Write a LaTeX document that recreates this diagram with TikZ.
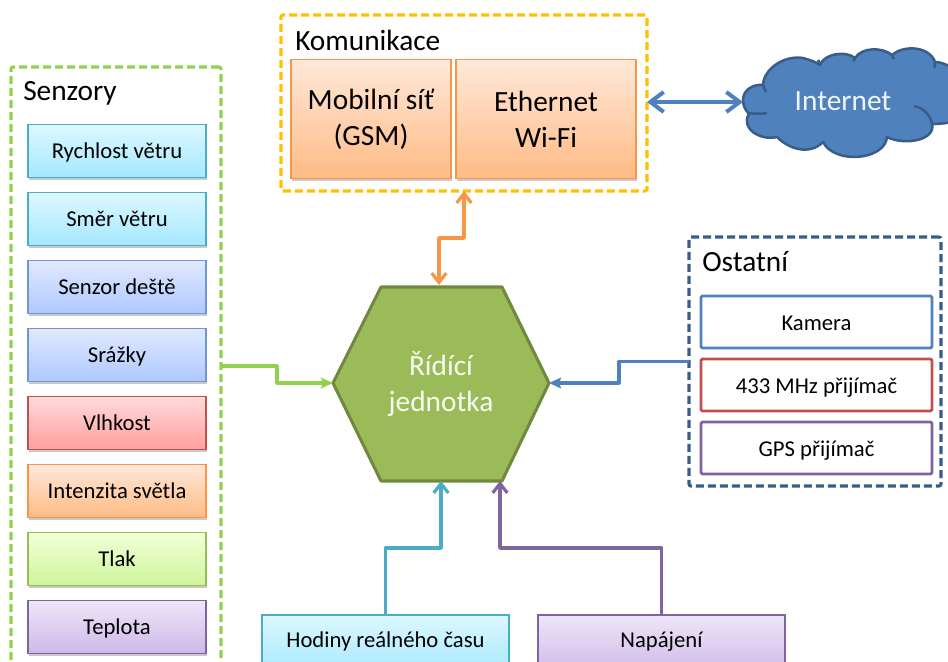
\documentclass[tikz,border=0pt]{standalone}
\usepackage{fontspec}
\setmainfont{Carlito}
\usetikzlibrary{shadows,arrows.meta,calc}
\definecolor{cyL}{HTML}{4BACC6}\definecolor{cyT}{HTML}{DDF8FF}\definecolor{cyB}{HTML}{A5E8FF}
\definecolor{blL}{HTML}{6F97CC}\definecolor{blT}{HTML}{E0E9FF}\definecolor{blB}{HTML}{AFC8FF}
\definecolor{reL}{HTML}{C0504D}\definecolor{reT}{HTML}{FFDADA}\definecolor{reB}{HTML}{FF9E9E}
\definecolor{orL}{HTML}{F79646}\definecolor{orT}{HTML}{FFE8D9}\definecolor{orB}{HTML}{FFBB85}
\definecolor{grL}{HTML}{9BBB59}\definecolor{grT}{HTML}{F3FFD8}\definecolor{grB}{HTML}{CDF59B}
\definecolor{puL}{HTML}{8064A2}\definecolor{puT}{HTML}{EEE6F8}\definecolor{puB}{HTML}{CEB8E8}
\definecolor{blueA}{HTML}{4F81BD}\definecolor{navy}{HTML}{385D8A}
\definecolor{hexF}{HTML}{9BBB59}\definecolor{hexL}{HTML}{71893F}
\definecolor{frG}{HTML}{92D050}\definecolor{frY}{HTML}{FFC000}
\tikzset{
  sz/.style 2 args={minimum width=#1*0.75pt,minimum height=#2*0.75pt,inner sep=0pt,outer sep=0pt},
  gbox/.style={draw=#1L,line width=1pt,top color=#1T,bottom color=#1B,
    drop shadow={shadow xshift=1pt,shadow yshift=-2pt,opacity=.3,fill=black!70},
    font=\fontsize{17}{20}\selectfont,align=center,text=black},
  line1/.style={text height=13.5pt,text depth=3pt},
  wbox/.style={draw=#1,line width=2.1pt,fill=white,rounded corners=1pt,font=\fontsize{17}{20}\selectfont,text height=15pt,text depth=3pt},
  frame/.style={draw=#1,line width=2.3pt,dash pattern=on 6pt off 3pt,rounded corners=1.5pt},
  head/.style={font=\fontsize{22}{26}\selectfont,anchor=west,inner sep=0pt,text=black},
  big/.style={font=\fontsize{22}{27}\selectfont,align=center},
  conn/.style={draw=#1,line width=2.7pt,line join=round},
  thinconn/.style={draw=#1,line width=2.4pt,line join=round},
  solidtip/.style={-{Stealth[length=9pt,width=8pt,inset=1.5pt]}},
  opentip/.style={{Straight Barb[length=7pt,width=11pt,line width=2.4pt]}-{Straight Barb[length=7pt,width=11pt,line width=2.4pt]}},
  onetip/.style={-{Straight Barb[length=7pt,width=11pt,line width=2.4pt]}},
  widetip/.style={{Straight Barb[length=10pt,width=15pt,line width=3pt]}-{Straight Barb[length=10pt,width=15pt,line width=3pt]}},
  plaintext/.style={font=\fontsize{17}{20}\selectfont,text height=12pt,text depth=3pt,inner sep=0pt},
}
\begin{document}
\begin{tikzpicture}[x=0.75pt,y=-0.75pt]
\useasboundingbox (0,0) rectangle (948,661);
\clip (0,0) rectangle (948,661);
% frames
\node[frame=frG,sz={210}{598}] (fS) at (116,366) {};
\node[frame=frY,sz={366}{176}] (fK) at (464,103) {};
\node[frame=navy,sz={252}{249}] (fO) at (815,361.5) {};
% headings
\node[head] (hS) at (23,93) {Senzory};
\node[head] (hK) at (295,40) {Komunikace};
\node[head] (hO) at (702,262) {Ostatní};
% sensors
\node[gbox=cy,line1,sz={178}{53}] (s1) at (117,151) {Rychlost větru};
\node[gbox=cy,line1,sz={178}{53}] (s2) at (117,219) {Směr větru};
\node[gbox=bl,line1,sz={178}{53}] (s3) at (117,287) {Senzor deště};
\node[gbox=bl,line1,sz={178}{53}] (s4) at (117,355) {Srážky};
\node[gbox=re,line1,sz={178}{53}] (s5) at (117,423) {Vlhkost};
\node[gbox=or,line1,sz={178}{53}] (s6) at (117,491) {Intenzita světla};
\node[gbox=gr,line1,sz={178}{53}] (s7) at (117,559) {Tlak};
\node[gbox=pu,line1,sz={178}{53}] (s8) at (117,627) {Teplota};
% communication
\node[gbox=or,sz={160}{119},big] (k1) at (371,119) {Mobilní síť\\(GSM)};
\node[gbox=or,sz={180}{119},big] (k2) at (546,119) {Ethernet\\Wi-Fi};
% others
\node[wbox=blueA,sz={231}{52}] (o1) at (816.5,322) {Kamera};
\node[wbox=reL,sz={231}{52}] (o2) at (816.5,385) {433 MHz přijímač};
\node[wbox=puL,sz={231}{52}] (o3) at (816.5,448) {GPS přijímač};
% bottom
\node[gbox=cy,sz={247}{60}] (b1) at (385.5,645) {};
\node[gbox=pu,sz={247}{60}] (b2) at (661.5,645) {};
\node[plaintext] (b1t) at (385.5,641) {Hodiny reálného času};
\node[plaintext] (b2t) at (661.5,641) {Napájení};
% hexagon
\filldraw[fill=hexF,draw=hexL,line width=2.3pt,line join=round]
  (333,383)--(381,287)--(502,287)--(549,383)--(502,481)--(381,481)--cycle;
\node[sz={216}{196}] (ctrl) at (441,383) {};
\node[big,inner sep=0pt,text=white!92!hexF] (ctrlt) at (441,384.5) {Řídící\\jednotka};
% cloud
\filldraw[fill=blueA,draw=navy,line width=1.9pt,line join=round]
  (743,100) .. controls (743,90) and (753,84) .. (763,85)
  .. controls (764,68) and (785,55) .. (803,58)
  .. controls (810,60) and (816,62) .. (820,65)
  .. controls (824,54) and (845,50) .. (855,58)
  .. controls (862,47) and (882,47) .. (892,55)
  .. controls (905,44) and (930,47) .. (935,62)
  .. controls (945,62) and (960,70) .. (965,85)
  -- (965,115)
  .. controls (960,120) and (950,124) .. (932,124)
  .. controls (936,140) and (905,146) .. (887,137)
  .. controls (885,160) and (835,165) .. (823,142)
  .. controls (810,155) and (790,150) .. (777,137)
  .. controls (760,141) and (740,128) .. (749,114)
  .. controls (745,110) and (743,105) .. (743,100) -- cycle;
\draw[navy,line width=1.9pt] (749,113) .. controls (755,114) and (762,114) .. (767,113);
\draw[navy,line width=1.9pt] (763,85) .. controls (764,88) and (765,90) .. (766,92);
\draw[navy,line width=1.9pt] (914,106) .. controls (924,108) and (931,116) .. (932,124);
\draw[navy,line width=1.9pt] (820,65) .. controls (819,62) and (819,61) .. (818,60);
\draw[navy,line width=1.9pt] (855,58) .. controls (854,60) and (854,61) .. (853,61);
\draw[navy,line width=1.9pt] (892,55) .. controls (893,57) and (893,58) .. (894,59);
\draw[navy,line width=1.9pt] (935,62) .. controls (935,65) and (935,66) .. (934,68);
\node[font=\fontsize{22}{26}\selectfont,text=white!92!blueA,inner sep=0pt] (net) at (843,101) {Internet};
\coordinate (netL) at (743,102);
% connectors
\draw[thinconn=frG,solidtip] (fS.east) -- (277,366) -- (277,383) -- (ctrl.west);
\draw[thinconn=blueA,solidtip] (fO.west) -- (619,361.5) -- (619,383) -- (ctrl.east);
\draw[conn=orL,opentip] ($(ctrl.north)+(-2,0)$) -- (439,238) -- (464,238) -- (fK.south);
\draw[conn=cyL,onetip] (b1.north) -- (b1.north |- 0,548) -- (ctrl.south |- 0,548) -- (ctrl.south);
\draw[conn=puL,onetip] (b2.north) -- (b2.north |- 0,548) -- (500,548) -- ($(ctrl.south)+(59,0)$);
\draw[conn=blueA,widetip,line width=3pt] (fK.east |- netL) -- (netL);
\end{tikzpicture}
\end{document}
